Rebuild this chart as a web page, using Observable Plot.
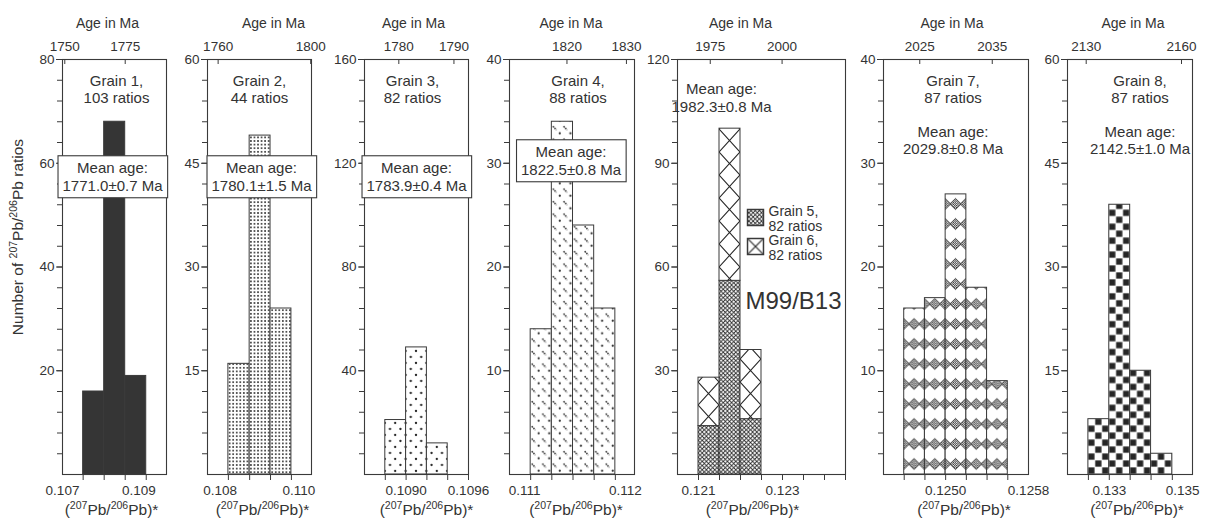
<!DOCTYPE html>
<html>
<head>
<meta charset="utf-8">
<script src="https://cdn.jsdelivr.net/npm/d3@7"></script>
<script src="https://cdn.jsdelivr.net/npm/@observablehq/plot@0.6"></script>
<style>
  html, body { margin: 0; padding: 0; background: #fff; }
  #chart { position: relative; width: 1207px; height: 522px; overflow: hidden; background: #fff; }
  #chart svg { position: absolute; top: 0; overflow: visible; }
</style>
</head>
<body>
<div id="chart"></div>
<script>
// ---------------- data ----------------
const sampleName = "M99/B13";
const grainNames = ["Grain 1", "Grain 2", "Grain 3", "Grain 4", "Grain 5", "Grain 6", "Grain 7", "Grain 8"];
const grainRatios = [103, 44, 82, 88, 82, 82, 87, 87];
const meanAges = ["1771.0±0.7", "1780.1±1.5", "1783.9±0.4", "1822.5±0.8", "1982.3±0.8", "2029.8±0.8", "2142.5±1.0"];

// histogram bins: (207Pb/206Pb)* bin edges and number of ratios per bin
const edges1 = [0.10754, 0.10809, 0.10864, 0.10919];
const counts1 = [16, 68, 19];
const edges2 = [0.10821, 0.10875, 0.10928, 0.10981];
const counts2 = [16, 49, 24];
const edges3 = [0.1088, 0.1090, 0.1092, 0.1094];
const counts3 = [21, 49, 12];
const edges4 = [0.11106, 0.11127, 0.11148, 0.11169, 0.1119];
const counts4 = [14, 34, 24, 16];
const edges56 = [0.121, 0.1215, 0.122, 0.1225];
const counts5 = [14, 56, 16];
const counts6 = [14, 44, 20];
const edges7 = [0.1246, 0.1248, 0.1250, 0.1252, 0.1254, 0.1256];
const counts7 = [16, 17, 27, 18, 9];
const edges8 = [0.13243, 0.133, 0.13357, 0.13414, 0.13472];
const counts8 = [8, 39, 15, 3];

// axes
const yMaxima = [80, 60, 160, 40, 120, 40, 60];
const yLabelSteps = [20, 15, 40, 10, 30, 10, 15];
const xDomains = [[0.107, 0.10972], [0.10768, 0.11032], [0.1086, 0.1096], [0.11085, 0.11209], [0.1205, 0.1245], [0.1244, 0.1258], [0.13186, 0.13527]];
const bottomTicks = [edges1, edges2, [0.1088, 0.109, 0.1092, 0.1094, 0.1096], edges4, [0.121, 0.1215, 0.122, 0.1225, 0.123, 0.1235, 0.124, 0.1245], edges7, edges8];
const bottomLabelValues = [[0.107, 0.109], [0.108, 0.110], [0.1090, 0.1096], [0.111, 0.112], [0.121, 0.123], [0.1250, 0.1258], [0.133, 0.135]];
const bottomLabelTexts = [["0.107", "0.109"], ["0.108", "0.110"], ["0.1090", "0.1096"], ["0.111", "0.112"], ["0.121", "0.123"], ["0.1250", "0.1258"], ["0.133", "0.135"]];
const topAges = [[1750, 1775], [1760, 1800], [1780, 1790], [1820, 1830], [1975, 2000], [2025, 2035], [2130, 2160]];
const topAgeRatios = [[0.10706, 0.10864], [0.10795, 0.1103], [0.10893, 0.10946], [0.11142, 0.11201], [0.12128, 0.12299], [0.12475, 0.12545], [0.13237, 0.13497]];

// ---------------- layout (pixels / styles) ----------------
const FRAME_TOP = 59, FRAME_BOTTOM = 474, SVG_H = 522;
const frameLeft = [62, 207, 364, 509, 677, 883, 1067];
const frameWidth = [104, 104, 104, 125, 168, 145, 125];
const grainTextDx = [2, 0, -4, 6, 0, -3, 10];
const boxDx = [-2, 2, 0, -1];
const boxDy = [117, 117, 117, 101];
const ageTitleDx = [-7, 14, -3, -1, -21, -4, 3];
const ratioTitleDx = [-3, 3, 10, 4, -9, 8, 7];
const FONT = "'Liberation Sans', Arial, Helvetica, sans-serif";
const INK = "#333";
const LINE = "#3a3a3a";
const NS = "http://www.w3.org/2000/svg";

const panelSeries = [
  [{edges: edges1, counts: counts1, fill: "#353535"}],
  [{edges: edges2, counts: counts2, fill: "url(#pat-g2)"}],
  [{edges: edges3, counts: counts3, fill: "url(#pat-g3)"}],
  [{edges: edges4, counts: counts4, fill: "url(#pat-g4)"}],
  [{edges: edges56, counts: counts5, fill: "url(#pat-g5)"},
   {edges: edges56, counts: counts6, base: counts5, fill: "url(#pat-g6)"}],
  [{edges: edges7, counts: counts7, fill: "url(#pat-g7)"}],
  [{edges: edges8, counts: counts8, fill: "url(#pat-g8)"}]
];

function rowsOf(s) {
  return s.counts.map((c, k) => {
    const b = s.base ? s.base[k] : 0;
    return {x1: s.edges[k], x2: s.edges[k + 1], y1: b, y2: b + c};
  });
}

function patternDefs(p, x0, bw, yb) {
  const S = "#262626";
  const bg = (w, h) => `<rect width="${w}" height="${h}" fill="#fff"/>`;
  if (p === 1) {
    const w = bw / 6, h = 3.6;
    return `<pattern id="pat-g2" patternUnits="userSpaceOnUse" x="${x0}" y="${yb}" width="${w}" height="${h}">${bg(w, h)}<circle cx="${w / 2}" cy="${h / 2}" r="0.95" fill="${S}"/></pattern>`;
  }
  if (p === 2) {
    const w = bw / 2, h = 12;
    return `<pattern id="pat-g3" patternUnits="userSpaceOnUse" x="${x0}" y="${yb}" width="${w}" height="${h}">${bg(w, h)}<circle cx="${w / 2}" cy="3" r="1.15" fill="${S}"/><circle cx="0" cy="9" r="1.15" fill="${S}"/><circle cx="${w}" cy="9" r="1.15" fill="${S}"/></pattern>`;
  }
  if (p === 3) {
    const w = bw / 2, h = 12.5;
    return `<pattern id="pat-g4" patternUnits="userSpaceOnUse" x="${x0}" y="${yb}" width="${w}" height="${h}">${bg(w, h)}<path d="M1.6,2.2L5.2,6" stroke="${S}" stroke-width="1.5" stroke-dasharray="1.5 0.9"/><circle cx="${w * 0.8}" cy="9.3" r="1.1" fill="${S}"/></pattern>`;
  }
  if (p === 4) {
    const w5 = bw / 5;
    const w6 = bw, h6 = 23;
    return `<pattern id="pat-g5" patternUnits="userSpaceOnUse" x="${x0}" y="${yb}" width="${w5}" height="${w5}">${bg(w5, w5)}<path d="M0,0L${w5},${w5}M${w5},0L0,${w5}" stroke="${S}" stroke-width="0.85"/></pattern>` +
      `<pattern id="pat-g6" patternUnits="userSpaceOnUse" x="${x0}" y="${yb}" width="${w6}" height="${h6}">${bg(w6, h6)}<path d="M0,0L${w6},${h6}M${w6},0L0,${h6}" stroke="${S}" stroke-width="1.15"/></pattern>` +
      `<pattern id="pat-leg6" patternContentUnits="objectBoundingBox" width="1" height="1"><rect width="1" height="1" fill="#fff"/><path d="M0,0L1,1M1,0L0,1" stroke="${S}" stroke-width="0.075"/></pattern>`;
  }
  if (p === 5) {
    const w = bw, h = 20, r = 5.6;
    const dia = (cx, cy) => `<path d="M${cx},${cy - r}L${cx + r},${cy}L${cx},${cy + r}L${cx - r},${cy}Z" fill="url(#pat-fc)" stroke="${S}" stroke-width="0.8"/>`;
    return `<pattern id="pat-fc" patternUnits="userSpaceOnUse" width="2.2" height="2.2"><rect width="2.2" height="2.2" fill="#fff"/><rect width="1.1" height="1.1" fill="${S}"/><rect x="1.1" y="1.1" width="1.1" height="1.1" fill="${S}"/></pattern>` +
      `<pattern id="pat-g7" patternUnits="userSpaceOnUse" x="${x0}" y="${yb}" width="${w}" height="${h}">${bg(w, h)}${dia(w / 2, h / 2)}${dia(0, h / 2)}${dia(w, h / 2)}</pattern>`;
  }
  if (p === 6) {
    const c = bw / 3, w = 2 * c;
    return `<pattern id="pat-g8" patternUnits="userSpaceOnUse" x="${x0}" y="${yb}" width="${w}" height="${w}">${bg(w, w)}<rect x="0.35" y="${c + 0.35}" width="${c - 0.7}" height="${c - 0.7}" fill="#262626"/><rect x="${c + 0.35}" y="0.35" width="${c - 0.7}" height="${c - 0.7}" fill="#262626"/></pattern>`;
  }
  return "";
}

function panelPlot(p) {
  const ML = p === 0 ? 62 : 48, MR = 34;
  const fw = frameWidth[p];
  const yMax = yMaxima[p], step = yLabelSteps[p];
  const majors = d3.range(step, yMax + step / 2, step);
  const minors = d3.range(step / 5, yMax + 1e-9, step / 5);
  const marks = [];

  for (const s of panelSeries[p]) {
    marks.push(Plot.rect(rowsOf(s), {x1: "x1", x2: "x2", y1: "y1", y2: "y2", fill: s.fill, stroke: LINE, strokeWidth: 1}));
  }
  marks.push(Plot.frame({stroke: LINE, strokeWidth: 1.1}));

  // y axis: minor + major ticks
  marks.push(Plot.axisY({ticks: minors, tickSize: 5, tickFormat: () => "", stroke: LINE, label: null}));
  marks.push(Plot.axisY({ticks: majors, tickSize: 6, tickPadding: 2, stroke: LINE, fill: INK, fontSize: 13.5, label: null, tickFormat: d => String(d)}));

  // bottom axis ticks and labels
  marks.push(Plot.axisX({ticks: bottomTicks[p], tickSize: 6, tickFormat: () => "", stroke: LINE, label: null}));
  marks.push(Plot.text(bottomLabelValues[p], {x: d => d, text: (d, k) => bottomLabelTexts[p][k], frameAnchor: "bottom", dy: 16, lineAnchor: "middle", fontSize: 13.5, fill: INK}));
  marks.push(Plot.text(["(^{207}Pb/^{206}Pb)*"], {frameAnchor: "bottom", dx: ratioTitleDx[p], dy: 36, lineAnchor: "middle", fontSize: 15.5, fill: INK}));

  // top (age) axis
  marks.push(Plot.ruleX(topAgeRatios[p], {stroke: LINE, insetBottom: FRAME_BOTTOM - FRAME_TOP - 5}));
  marks.push(Plot.text(topAges[p], {x: (d, k) => topAgeRatios[p][k], text: d => String(d), frameAnchor: "top", dy: -13, lineAnchor: "middle", fontSize: 13.5, fill: INK}));
  marks.push(Plot.text(["Age in Ma"], {frameAnchor: "top", dx: ageTitleDx[p], dy: -36, lineAnchor: "middle", fontSize: 14, fill: INK}));

  // annotations
  if (p <= 3) {
    marks.push(Plot.text([`${grainNames[p]},\n${grainRatios[p]} ratios`], {frameAnchor: "top", dx: grainTextDx[p], dy: 29.5, lineAnchor: "middle", lineHeight: 1.13, fontSize: 15, fill: INK}));
    marks.push(Plot.text([`Mean age:\n${meanAges[p]} Ma`], {frameAnchor: "top", dx: boxDx[p], dy: boxDy[p], lineAnchor: "middle", lineHeight: 1.2, fontSize: 15, fill: INK, ariaDescription: "boxed"}));
  } else if (p === 4) {
    marks.push(Plot.text([`Mean age:\n${meanAges[p]} Ma`], {frameAnchor: "top-left", textAnchor: "middle", dx: 44, dy: 38, lineAnchor: "middle", lineHeight: 1.2, fontSize: 15, fill: INK}));
    marks.push(Plot.dot([0], {frameAnchor: "top-left", dx: 78, dy: 158, symbol: "square", r: 9, fill: "url(#pat-g5)", stroke: LINE}));
    marks.push(Plot.dot([0], {frameAnchor: "top-left", dx: 78, dy: 187, symbol: "square", r: 9, fill: "url(#pat-leg6)", stroke: LINE}));
    marks.push(Plot.text([`${grainNames[4]},\n${grainRatios[4]} ratios`], {frameAnchor: "top-left", dx: 91, dy: 159, lineAnchor: "middle", lineHeight: 1.05, fontSize: 14, fill: INK}));
    marks.push(Plot.text([`${grainNames[5]},\n${grainRatios[5]} ratios`], {frameAnchor: "top-left", dx: 91, dy: 188, lineAnchor: "middle", lineHeight: 1.05, fontSize: 14, fill: INK}));
    marks.push(Plot.text([sampleName], {frameAnchor: "top-left", textAnchor: "middle", dx: 116, dy: 242, lineAnchor: "middle", fontSize: 24, fill: INK}));
  } else {
    const g = p + 1;
    marks.push(Plot.text([`${grainNames[g]},\n${grainRatios[g]} ratios\n\nMean age:\n${meanAges[p]} Ma`], {frameAnchor: "top", dx: grainTextDx[p], dy: 55, lineAnchor: "middle", lineHeight: 1.13, fontSize: 15, fill: INK}));
  }
  if (p === 0) {
    marks.push(Plot.text(["Number of ^{207}Pb/^{206}Pb ratios"], {frameAnchor: "left", textAnchor: "middle", rotate: -90, dx: -44, dy: -30, lineAnchor: "middle", fontSize: 15.5, fill: INK}));
  }

  const plot = Plot.plot({
    width: ML + fw + MR,
    height: SVG_H,
    marginLeft: ML,
    marginRight: MR,
    marginTop: FRAME_TOP,
    marginBottom: SVG_H - FRAME_BOTTOM,
    x: {domain: xDomains[p]},
    y: {domain: [0, yMax]},
    style: {fontFamily: FONT, fontSize: "13.5px", color: INK, background: "transparent", overflow: "visible"},
    marks
  });
  return {plot, ML};
}

function superscripts(svg) {
  svg.querySelectorAll("text").forEach(t => {
    if (t.querySelector("tspan")) return;
    const s = t.textContent;
    if (!s.includes("^{")) return;
    const fs = parseFloat(getComputedStyle(t).fontSize) || 15;
    t.textContent = "";
    let shifted = false;
    for (const part of s.split(/(\^\{[^}]*\})/)) {
      if (!part) continue;
      const ts = document.createElementNS(NS, "tspan");
      if (part.startsWith("^{")) {
        ts.textContent = part.slice(2, -1);
        ts.setAttribute("font-size", (fs * 0.68).toFixed(2));
        if (!shifted) { ts.setAttribute("dy", (-fs * 0.4).toFixed(2)); shifted = true; }
      } else {
        ts.textContent = part;
        if (shifted) { ts.setAttribute("dy", (fs * 0.4).toFixed(2)); shifted = false; }
      }
      t.appendChild(ts);
    }
  });
}

function boxes(svg) {
  svg.querySelectorAll('g[aria-description="boxed"] text').forEach(t => {
    const b = t.getBBox();
    const r = document.createElementNS(NS, "rect");
    r.setAttribute("x", b.x - 4.5);
    r.setAttribute("y", b.y - 3.5);
    r.setAttribute("width", b.width + 9);
    r.setAttribute("height", b.height + 7);
    r.setAttribute("fill", "#fff");
    r.setAttribute("stroke", LINE);
    r.setAttribute("stroke-width", "1.1");
    const tr = t.getAttribute("transform");
    if (tr) r.setAttribute("transform", tr);
    t.parentNode.insertBefore(r, t);
  });
}

const chart = document.getElementById("chart");
for (let p = 0; p < 7; p++) {
  const {plot, ML} = panelPlot(p);
  plot.style.left = (frameLeft[p] - ML) + "px";
  chart.appendChild(plot);
  const sx = plot.scale("x");
  const px = v => sx.range[0] + (v - sx.domain[0]) / (sx.domain[1] - sx.domain[0]) * (sx.range[1] - sx.range[0]);
  const e = panelSeries[p][0].edges;
  const defs = patternDefs(p, px(e[0]), px(e[1]) - px(e[0]), FRAME_BOTTOM);
  if (defs) plot.insertAdjacentHTML("afterbegin", `<defs>${defs}</defs>`);
  superscripts(plot);
  boxes(plot);
}
</script>
</body>
</html>
